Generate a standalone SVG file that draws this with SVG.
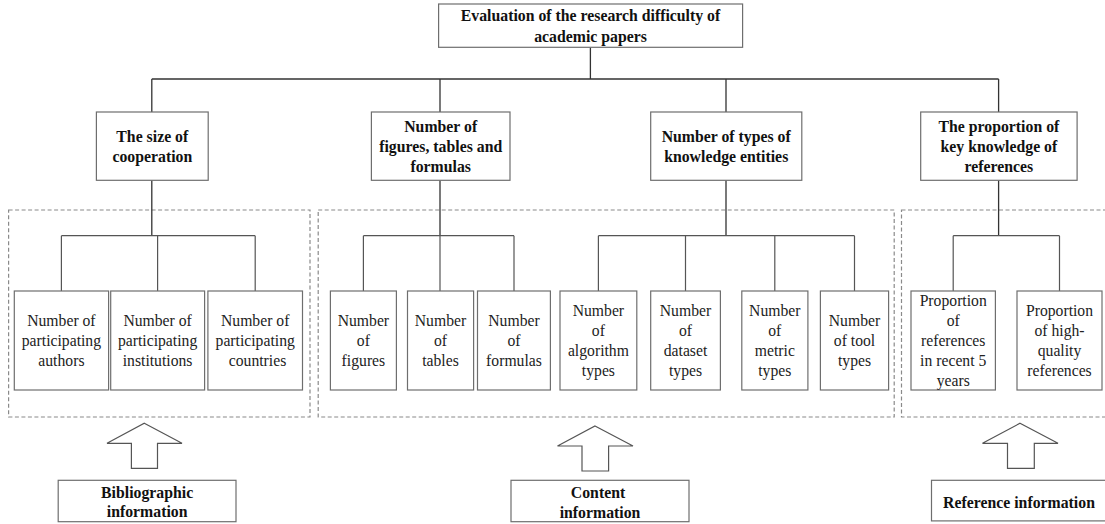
<svg xmlns="http://www.w3.org/2000/svg" width="1105" height="524" viewBox="0 0 1105 524">
<style>
.box{fill:#fff;stroke:#6e6e6e;stroke-width:1.2}
.dash{fill:none;stroke:#8a8a8a;stroke-width:1.2;stroke-dasharray:4,2.5}
.c1{fill:none;stroke:#333;stroke-width:1.3}
.c2{fill:none;stroke:#555;stroke-width:1.2}
.arrow{fill:#fff;stroke:#555;stroke-width:1.2}
text{font-family:"Liberation Serif","Times New Roman",serif;text-anchor:middle;fill:#1a1a1a}
.b{font-weight:bold;font-size:15.8px;fill:#111}
.r{font-size:15.7px;fill:#222}
</style>
<rect width="1105" height="524" fill="#fff"/>
<g id="groups">
<rect class="dash" x="8.6" y="210" width="301.4" height="207"/>
<rect class="dash" x="318.2" y="210" width="576" height="207"/>
<rect class="dash" x="901.5" y="210" width="210" height="207"/>
</g>
<g id="connectors">
<path class="c1" d="M590.4 47.3V79M151.8 79H998.6M151.8 79V112M440 79V112M726 79V112M998.6 79V112"/>
<path class="c1" d="M151.8 180.3V235.7M440 180.3V235.7M726 180.3V235.7M998.6 180.3V235.7"/>
<path class="c2" d="M61.4 235.7H255.2M61.4 235.7V291M157.6 235.7V291M255.2 235.7V291"/>
<path class="c2" d="M363.4 235.7H514M363.4 235.7V291M440 235.7V291M514 235.7V291"/>
<path class="c2" d="M598.4 235.7H854.5M598.4 235.7V291M685.5 235.7V291M774.8 235.7V291M854.5 235.7V291"/>
<path class="c2" d="M953.2 235.7H1059.5M953.2 235.7V291M1059.5 235.7V291"/>
</g>
<g id="root">
<rect class="box" x="438.6" y="4" width="304" height="43.3"/>
<text class="b" transform="matrix(1 0 0 1.12 590.5 21)">Evaluation of the research difficulty of</text>
<text class="b" transform="matrix(1 0 0 1.12 590.5 41.5)">academic papers</text>
</g>
<g id="size">
<rect class="box" x="96.4" y="112" width="111.8" height="68.3"/>
<text class="b" transform="matrix(1 0 0 1.12 152.3 142)">The size of</text>
<text class="b" transform="matrix(1 0 0 1.12 152.3 162)">cooperation</text>
</g>
<g id="figs">
<rect class="box" x="371.4" y="112" width="138.6" height="68.3"/>
<text class="b" transform="matrix(1 0 0 1.12 440.7 132)">Number of</text>
<text class="b" transform="matrix(1 0 0 1.12 440.7 152)">figures, tables and</text>
<text class="b" transform="matrix(1 0 0 1.12 440.7 172)">formulas</text>
</g>
<g id="entities">
<rect class="box" x="650.7" y="112" width="151.1" height="68.3"/>
<text class="b" transform="matrix(1 0 0 1.12 726.2 142)">Number of types of</text>
<text class="b" transform="matrix(1 0 0 1.12 726.2 162)">knowledge entities</text>
</g>
<g id="refs">
<rect class="box" x="920.7" y="112" width="156.4" height="68.3"/>
<text class="b" transform="matrix(1 0 0 1.12 998.9 132)">The proportion of</text>
<text class="b" transform="matrix(1 0 0 1.12 998.9 152)">key knowledge of</text>
<text class="b" transform="matrix(1 0 0 1.12 998.9 172)">references</text>
</g>
<g id="authors">
<rect class="box" x="14.3" y="291" width="94.3" height="99"/>
<text class="r" transform="matrix(1 0 0 1.12 61.4 326)">Number of</text>
<text class="r" transform="matrix(1 0 0 1.12 61.4 346)">participating</text>
<text class="r" transform="matrix(1 0 0 1.12 61.4 366)">authors</text>
</g>
<g id="institutions">
<rect class="box" x="110.7" y="291" width="93.9" height="99"/>
<text class="r" transform="matrix(1 0 0 1.12 157.6 326)">Number of</text>
<text class="r" transform="matrix(1 0 0 1.12 157.6 346)">participating</text>
<text class="r" transform="matrix(1 0 0 1.12 157.6 366)">institutions</text>
</g>
<g id="countries">
<rect class="box" x="207.9" y="291" width="94.6" height="99"/>
<text class="r" transform="matrix(1 0 0 1.12 255.2 326)">Number of</text>
<text class="r" transform="matrix(1 0 0 1.12 255.2 346)">participating</text>
<text class="r" transform="matrix(1 0 0 1.12 257.5 366)">countries</text>
</g>
<g id="figures">
<rect class="box" x="330.4" y="291" width="66" height="99"/>
<text class="r" transform="matrix(1 0 0 1.12 363.4 326)">Number</text>
<text class="r" transform="matrix(1 0 0 1.12 363.4 346)">of</text>
<text class="r" transform="matrix(1 0 0 1.12 363.4 366)">figures</text>
</g>
<g id="tables">
<rect class="box" x="407.5" y="291" width="66.1" height="99"/>
<text class="r" transform="matrix(1 0 0 1.12 440.5 326)">Number</text>
<text class="r" transform="matrix(1 0 0 1.12 440.5 346)">of</text>
<text class="r" transform="matrix(1 0 0 1.12 440.5 366)">tables</text>
</g>
<g id="formulas">
<rect class="box" x="477.5" y="291" width="72.9" height="99"/>
<text class="r" transform="matrix(1 0 0 1.12 514 326)">Number</text>
<text class="r" transform="matrix(1 0 0 1.12 514 346)">of</text>
<text class="r" transform="matrix(1 0 0 1.12 514 366)">formulas</text>
</g>
<g id="algorithm">
<rect class="box" x="560" y="291" width="76.8" height="99"/>
<text class="r" transform="matrix(1 0 0 1.12 598.4 316)">Number</text>
<text class="r" transform="matrix(1 0 0 1.12 598.4 336)">of</text>
<text class="r" transform="matrix(1 0 0 1.12 598.4 356)">algorithm</text>
<text class="r" transform="matrix(1 0 0 1.12 598.4 376)">types</text>
</g>
<g id="dataset">
<rect class="box" x="650.7" y="291" width="69.7" height="99"/>
<text class="r" transform="matrix(1 0 0 1.12 685.5 316)">Number</text>
<text class="r" transform="matrix(1 0 0 1.12 685.5 336)">of</text>
<text class="r" transform="matrix(1 0 0 1.12 685.5 356)">dataset</text>
<text class="r" transform="matrix(1 0 0 1.12 685.5 376)">types</text>
</g>
<g id="metric">
<rect class="box" x="741.8" y="291" width="66.1" height="99"/>
<text class="r" transform="matrix(1 0 0 1.12 774.8 316)">Number</text>
<text class="r" transform="matrix(1 0 0 1.12 774.8 336)">of</text>
<text class="r" transform="matrix(1 0 0 1.12 774.8 356)">metric</text>
<text class="r" transform="matrix(1 0 0 1.12 774.8 376)">types</text>
</g>
<g id="tool">
<rect class="box" x="820.4" y="291" width="68.2" height="99"/>
<text class="r" transform="matrix(1 0 0 1.12 854.5 326)">Number</text>
<text class="r" transform="matrix(1 0 0 1.12 854.5 346)">of tool</text>
<text class="r" transform="matrix(1 0 0 1.12 854.5 366)">types</text>
</g>
<g id="recent">
<rect class="box" x="911" y="291" width="84.4" height="99"/>
<text class="r" transform="matrix(1 0 0 1.12 953.2 306)">Proportion</text>
<text class="r" transform="matrix(1 0 0 1.12 953.2 326)">of</text>
<text class="r" transform="matrix(1 0 0 1.12 953.2 346)">references</text>
<text class="r" transform="matrix(1 0 0 1.12 953.2 366)">in recent 5</text>
<text class="r" transform="matrix(1 0 0 1.12 953.2 386)">years</text>
</g>
<g id="highquality">
<rect class="box" x="1017" y="291" width="85" height="99"/>
<text class="r" transform="matrix(1 0 0 1.12 1059.5 316)">Proportion</text>
<text class="r" transform="matrix(1 0 0 1.12 1059.5 336)">of high-</text>
<text class="r" transform="matrix(1 0 0 1.12 1059.5 356)">quality</text>
<text class="r" transform="matrix(1 0 0 1.12 1059.5 376)">references</text>
</g>
<g id="arrows">
<polygon class="arrow" points="144.3,423.3 182,443.3 157.5,443.3 157.5,468.3 131.4,468.3 131.4,443.3 107,443.3"/>
<polygon class="arrow" points="595,426 633,446 608.6,446 608.6,471 582,471 582,446 557.5,446"/>
<polygon class="arrow" points="1020,423.3 1058,443.3 1034.3,443.3 1034.3,468.3 1007.5,468.3 1007.5,443.3 982.5,443.3"/>
</g>
<g id="biblio">
<rect class="box" x="58.2" y="480.3" width="177.8" height="41.4"/>
<text class="b" transform="matrix(1 0 0 1.12 147.1 497.5)">Bibliographic</text>
<text class="b" transform="matrix(1 0 0 1.12 147.1 517)">information</text>
</g>
<g id="content">
<rect class="box" x="511" y="480.3" width="178" height="41.4"/>
<text class="b" transform="matrix(1 0 0 1.12 598 497.5)">Content</text>
<text class="b" transform="matrix(1 0 0 1.12 600 517.5)">information</text>
</g>
<g id="refinfo">
<rect class="box" x="931.5" y="480.3" width="180" height="40.6"/>
<text class="b" transform="matrix(1 0 0 1.12 1019 507.5)">Reference information</text>
</g>
</svg>
